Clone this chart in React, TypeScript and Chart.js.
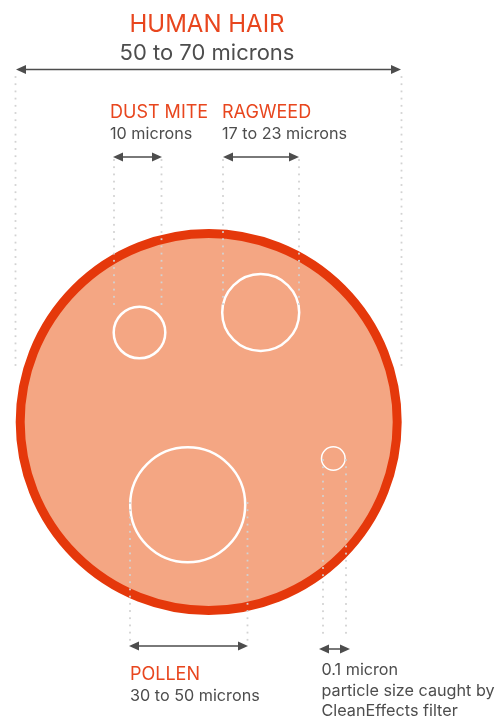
import React, { useEffect, useRef } from "react";
import { Chart, registerables } from "chart.js";

Chart.register(...registerables);

// Particles (drawn in a 497 x 720 layout space)
const particleNames = ["HUMAN HAIR", "DUST MITE", "RAGWEED", "POLLEN", ""];
const sizeTexts = [
  ["50 to 70 microns"],
  ["10 microns"],
  ["17 to 23 microns"],
  ["30 to 50 microns"],
  ["0.1 micron", "particle size caught by", "CleanEffects filter"],
];
const centerX = [208.7, 139.5, 260.7, 187.7, 333.3];
const centerY = [422, 332.5, 312.5, 504.7, 458.5];
const radius = [188.5, 25.8, 38.5, 57.5, 11.8];

// Dimension arrows
const arrowStart = [16, 113, 223, 129, 319];
const arrowEnd = [401, 162, 299, 248, 350];
const arrowY = [69.5, 157, 157, 646, 649];

// Dotted guide lines
const guideLeft = [15.5, 114, 223, 130, 323];
const guideRight = [401.5, 161.5, 299, 247.5, 346];
const guideTop = [77, 160, 160, 503, 460];
const guideBottom = [369, 309, 309, 642, 639];

// Label anchors
const labelX = [207, 110, 222, 130, 321.5];
const labelY = [32, 118, 118, 680, 675];
const labelAlign = ["center", "left", "left", "left", "left"];
const titleSize = [24, 18, 18, 18, 18];
const subSize = [22, 16.2, 16.2, 16.2, 16.2];
const subGap = [28, 21, 21, 21, 0];

const FILL = "#F4A683";
const RING = "#E5380B";
const RED_TEXT = "#E8461E";
const GRAY = "#4D4D4D";
const DOT = "#D2D2D2";

const overlayPlugin = {
  id: "overlay",
  afterDatasetsDraw(chart: any) {
    const { ctx, scales } = chart;
    const xs = scales.x;
    const ys = scales.y;
    const px = (v: number) => xs.getPixelForValue(v);
    const py = (v: number) => ys.getPixelForValue(v);
    ctx.save();
    // dotted guides
    ctx.fillStyle = DOT;
    for (let i = 0; i < particleNames.length; i++) {
      for (const gx of [guideLeft[i], guideRight[i]]) {
        const x = px(gx);
        const y0 = py(guideTop[i]);
        const y1 = py(guideBottom[i]);
        for (let y = y0; y <= y1; y += 7.2) {
          ctx.fillRect(x - 0.9, y - 0.9, 1.8, 1.8);
        }
      }
    }
    // arrows
    ctx.strokeStyle = GRAY;
    ctx.fillStyle = GRAY;
    ctx.lineWidth = 1.5;
    for (let i = 0; i < particleNames.length; i++) {
      const x0 = px(arrowStart[i]);
      const x1 = px(arrowEnd[i]);
      const y = py(arrowY[i]);
      const head = 10;
      const hh = 4.5;
      ctx.beginPath();
      ctx.moveTo(x0 + head - 1, y);
      ctx.lineTo(x1 - head + 1, y);
      ctx.stroke();
      ctx.beginPath();
      ctx.moveTo(x0, y);
      ctx.lineTo(x0 + head, y - hh);
      ctx.lineTo(x0 + head, y + hh);
      ctx.closePath();
      ctx.fill();
      ctx.beginPath();
      ctx.moveTo(x1, y);
      ctx.lineTo(x1 - head, y - hh);
      ctx.lineTo(x1 - head, y + hh);
      ctx.closePath();
      ctx.fill();
    }
    // labels
    ctx.textBaseline = "alphabetic";
    for (let i = 0; i < particleNames.length; i++) {
      ctx.textAlign = labelAlign[i];
      const x = px(labelX[i]);
      let y = py(labelY[i]);
      if (particleNames[i]) {
        ctx.fillStyle = RED_TEXT;
        ctx.font = `400 ${titleSize[i]}px Inter, "Noto Sans", sans-serif`;
        ctx.fillText(particleNames[i], x, y);
        y += subGap[i];
      }
      ctx.fillStyle = GRAY;
      ctx.font = `400 ${subSize[i]}px Inter, "Noto Sans", sans-serif`;
      sizeTexts[i].forEach((t, k) => {
        ctx.fillText(t, x, y + k * 20.5);
      });
    }
    ctx.restore();
  },
};

export default function App() {
  const ref = useRef<HTMLCanvasElement | null>(null);
  useEffect(() => {
    document.body.style.margin = "0";
    const canvas = ref.current;
    if (!canvas) return;
    const chart = new Chart(canvas, {
      type: "bubble",
      data: {
        datasets: [
          {
            data: centerX.map((x, i) => ({ x, y: centerY[i], r: radius[i] })),
            backgroundColor: centerX.map((_, i) => (i === 0 ? FILL : "rgba(0,0,0,0)")),
            borderColor: centerX.map((_, i) => (i === 0 ? RING : "#FFFFFF")),
            borderWidth: centerX.map((_, i) => (i === 0 ? 9 : i === 4 ? 1.5 : 2.5)),
            hoverRadius: 0,
            clip: false,
          } as any,
        ],
      },
      options: {
        responsive: false,
        animation: false,
        events: [],
        layout: { padding: 0, autoPadding: false },
        plugins: { legend: { display: false }, tooltip: { enabled: false } },
        scales: {
          x: { type: "linear", min: 0, max: 497, display: false },
          y: { type: "linear", min: 0, max: 720, reverse: true, display: false },
        },
      } as any,
      plugins: [overlayPlugin],
    });
    return () => chart.destroy();
  }, []);
  return (
    <div style={{ width: 497, height: 720, background: "#fff" }}>
      <canvas ref={ref} width={497} height={720} style={{ display: "block" }} />
    </div>
  );
}
